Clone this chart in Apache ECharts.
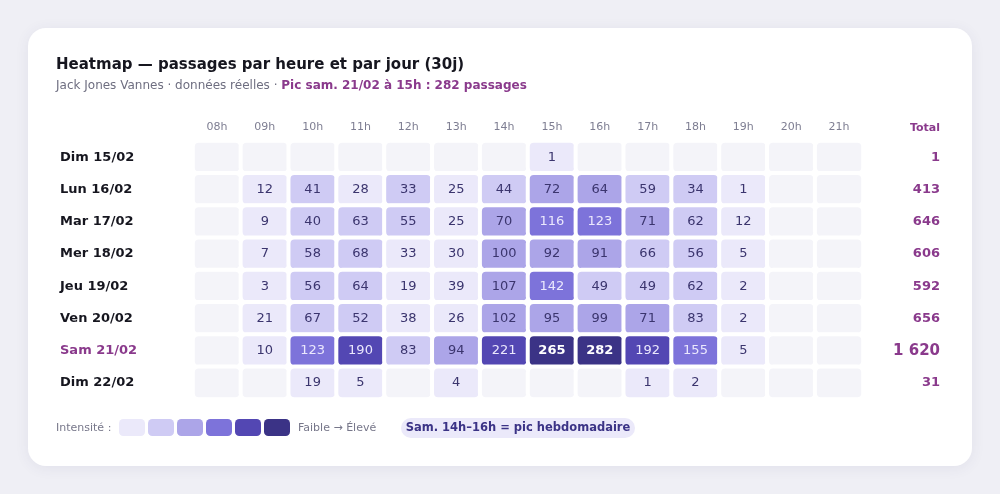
<!DOCTYPE html>
<html>
<head>
<meta charset="utf-8">
<script src="https://cdn.jsdelivr.net/npm/echarts@6/dist/echarts.min.js"></script>
<style>
  html, body { margin: 0; padding: 0; background: #efeff5; }
  #heatmap { width: 1000px; height: 494px; }
</style>
</head>
<body>
<div id="heatmap"></div>
<script>
var hours = ['08h','09h','10h','11h','12h','13h','14h','15h','16h','17h','18h','19h','20h','21h'];
var days = ['Dim 15/02','Lun 16/02','Mar 17/02','Mer 18/02','Jeu 19/02','Ven 20/02','Sam 21/02','Dim 22/02'];

// passages par jour (ligne) et par heure (colonne)
var passages = [
  [0, 0, 0, 0, 0, 0, 0, 1, 0, 0, 0, 0, 0, 0],
  [0, 12, 41, 28, 33, 25, 44, 72, 64, 59, 34, 1, 0, 0],
  [0, 9, 40, 63, 55, 25, 70, 116, 123, 71, 62, 12, 0, 0],
  [0, 7, 58, 68, 33, 30, 100, 92, 91, 66, 56, 5, 0, 0],
  [0, 3, 56, 64, 19, 39, 107, 142, 49, 49, 62, 2, 0, 0],
  [0, 21, 67, 52, 38, 26, 102, 95, 99, 71, 83, 2, 0, 0],
  [0, 10, 123, 190, 83, 94, 221, 265, 282, 192, 155, 5, 0, 0],
  [0, 0, 19, 5, 0, 4, 0, 0, 0, 1, 2, 0, 0, 0]
];

// niveau d'intensité lu sur chaque case (0 = vide)
var levels = [
  [0, 0, 0, 0, 0, 0, 0, 1, 0, 0, 0, 0, 0, 0],
  [0, 1, 2, 1, 2, 1, 2, 3, 3, 2, 2, 1, 0, 0],
  [0, 1, 2, 2, 2, 1, 3, 4, 4, 3, 2, 1, 0, 0],
  [0, 1, 2, 2, 1, 1, 3, 3, 3, 2, 2, 1, 0, 0],
  [0, 1, 2, 2, 1, 1, 3, 4, 2, 2, 2, 1, 0, 0],
  [0, 1, 2, 2, 1, 1, 3, 3, 3, 3, 2, 1, 0, 0],
  [0, 1, 4, 5, 2, 3, 5, 6, 6, 5, 4, 1, 0, 0],
  [0, 0, 1, 1, 0, 1, 0, 0, 0, 1, 1, 0, 0, 0]
];

var levelColors = ['#f4f4f9', '#ebe9fa', '#cfcbf4', '#aca5e8', '#7d73da', '#5347b3', '#3b3386'];
var peakDay = 6;

var totals = passages.map(function (row) {
  return row.reduce(function (a, b) { return a + b; }, 0);
});

function fmt(n) {
  return String(n).replace(/\B(?=(\d{3})+(?!\d))/g, ' ');
}

var cells = [];
days.forEach(function (d, j) {
  hours.forEach(function (h, i) {
    var lv = levels[j][i];
    cells.push({
      value: [i, j, passages[j][i], lv],
      label: {
        color: lv >= 4 ? (lv === 6 ? '#ffffff' : '#ebe8fd') : '#3b356e',
        fontWeight: lv === 6 ? 'bold' : 'normal'
      }
    });
  });
});

var font = 'DejaVu Sans';
var purple = '#8a3a8c';

var mychart = echarts.init(document.getElementById('heatmap'));

option = {
  backgroundColor: '#efeff5',
  textStyle: { fontFamily: font },
  title: [
    {
      text: 'Heatmap — passages par heure et par jour (30j)',
      left: 56,
      top: 58,
      padding: 0,
      itemGap: 7,
      textStyle: { fontSize: 15, fontWeight: 'bold', color: '#16161f', fontFamily: font },
      subtext: '{g|Jack Jones Vannes · données réelles · }{p|Pic sam. 21/02 à 15h : 282 passages}',
      subtextStyle: {
        rich: {
          g: { fontSize: 12, color: '#6e6e80', fontFamily: font },
          p: { fontSize: 12, color: purple, fontWeight: 'bold', fontFamily: font }
        }
      }
    },
    {
      text: 'Total',
      right: 60,
      top: 123,
      padding: 0,
      textStyle: { fontSize: 11, fontWeight: 'bold', color: purple, fontFamily: font }
    }
  ],
  graphic: [
    {
      type: 'rect',
      z: -10,
      shape: { x: 28, y: 28, width: 944, height: 438, r: 18 },
      style: { fill: '#ffffff', shadowBlur: 14, shadowColor: 'rgba(60,60,110,0.08)', shadowOffsetY: 2 }
    },
    {
      type: 'text',
      x: 56,
      y: 428,
      style: {
        text: 'Intensité :',
        fill: '#77778a',
        font: '11px "DejaVu Sans"',
        verticalAlign: 'middle'
      }
    },
    {
      type: 'text',
      x: 298,
      y: 428,
      style: {
        text: 'Faible → Élevé',
        fill: '#77778a',
        font: '11px "DejaVu Sans"',
        verticalAlign: 'middle'
      }
    },
    {
      type: 'group',
      left: 401,
      top: 418,
      children: [
        {
          type: 'rect',
          shape: { x: 0, y: 0, width: 234, height: 20, r: 10 },
          style: { fill: '#ebe9fa' }
        },
        {
          type: 'text',
          x: 117,
          y: 10,
          style: {
            text: 'Sam. 14h–16h = pic hebdomadaire',
            fill: '#3b3386',
            font: 'bold 11.5px "DejaVu Sans"',
            align: 'center',
            verticalAlign: 'middle'
          }
        }
      ]
    }
  ],
  grid: {
    left: 193,
    top: 141,
    width: 670,
    height: 258
  },
  xAxis: {
    type: 'category',
    position: 'top',
    data: hours,
    axisLine: { show: false },
    axisTick: { show: false },
    splitLine: { show: false },
    axisLabel: { color: '#7e7e92', fontSize: 11, margin: 8 }
  },
  yAxis: [
    {
      type: 'category',
      data: days,
      inverse: true,
      axisLine: { show: false },
      axisTick: { show: false },
      axisLabel: {
        align: 'left',
        margin: 133,
        formatter: function (v, idx) {
          return idx === peakDay ? '{p|' + v + '}' : '{d|' + v + '}';
        },
        rich: {
          d: { fontSize: 13, fontWeight: 'bold', color: '#16161f', fontFamily: font },
          p: { fontSize: 13, fontWeight: 'bold', color: purple, fontFamily: font }
        }
      }
    },
    {
      type: 'category',
      data: days,
      inverse: true,
      position: 'right',
      axisLine: { show: false },
      axisTick: { show: false },
      axisLabel: {
        align: 'right',
        margin: 77,
        formatter: function (v, idx) {
          return idx === peakDay ? '{b|' + fmt(totals[idx]) + '}' : '{t|' + fmt(totals[idx]) + '}';
        },
        rich: {
          t: { fontSize: 13, fontWeight: 'bold', color: purple, fontFamily: font },
          b: { fontSize: 15, fontWeight: 'bold', color: purple, fontFamily: font }
        }
      }
    }
  ],
  visualMap: {
    type: 'piecewise',
    dimension: 3,
    orient: 'horizontal',
    left: 119,
    top: 419,
    padding: 0,
    itemWidth: 26,
    itemHeight: 17,
    itemGap: 3,
    itemSymbol: 'roundRect',
    showLabel: false,
    selectedMode: false,
    hoverLink: false,
    pieces: [1, 2, 3, 4, 5, 6].map(function (lv) {
      return { value: lv, color: levelColors[lv] };
    }),
    outOfRange: { color: levelColors[0] },
    seriesIndex: 0
  },
  series: [
    {
      type: 'heatmap',
      data: cells,
      itemStyle: {
        borderRadius: 6,
        borderColor: '#ffffff',
        borderWidth: 4
      },
      label: {
        show: true,
        fontSize: 13,
        fontFamily: font,
        formatter: function (p) {
          return p.value[2] > 0 ? p.value[2] : '';
        }
      },
      emphasis: { disabled: true }
    }
  ]
};
mychart.setOption(option, true);
</script>
</body>
</html>
